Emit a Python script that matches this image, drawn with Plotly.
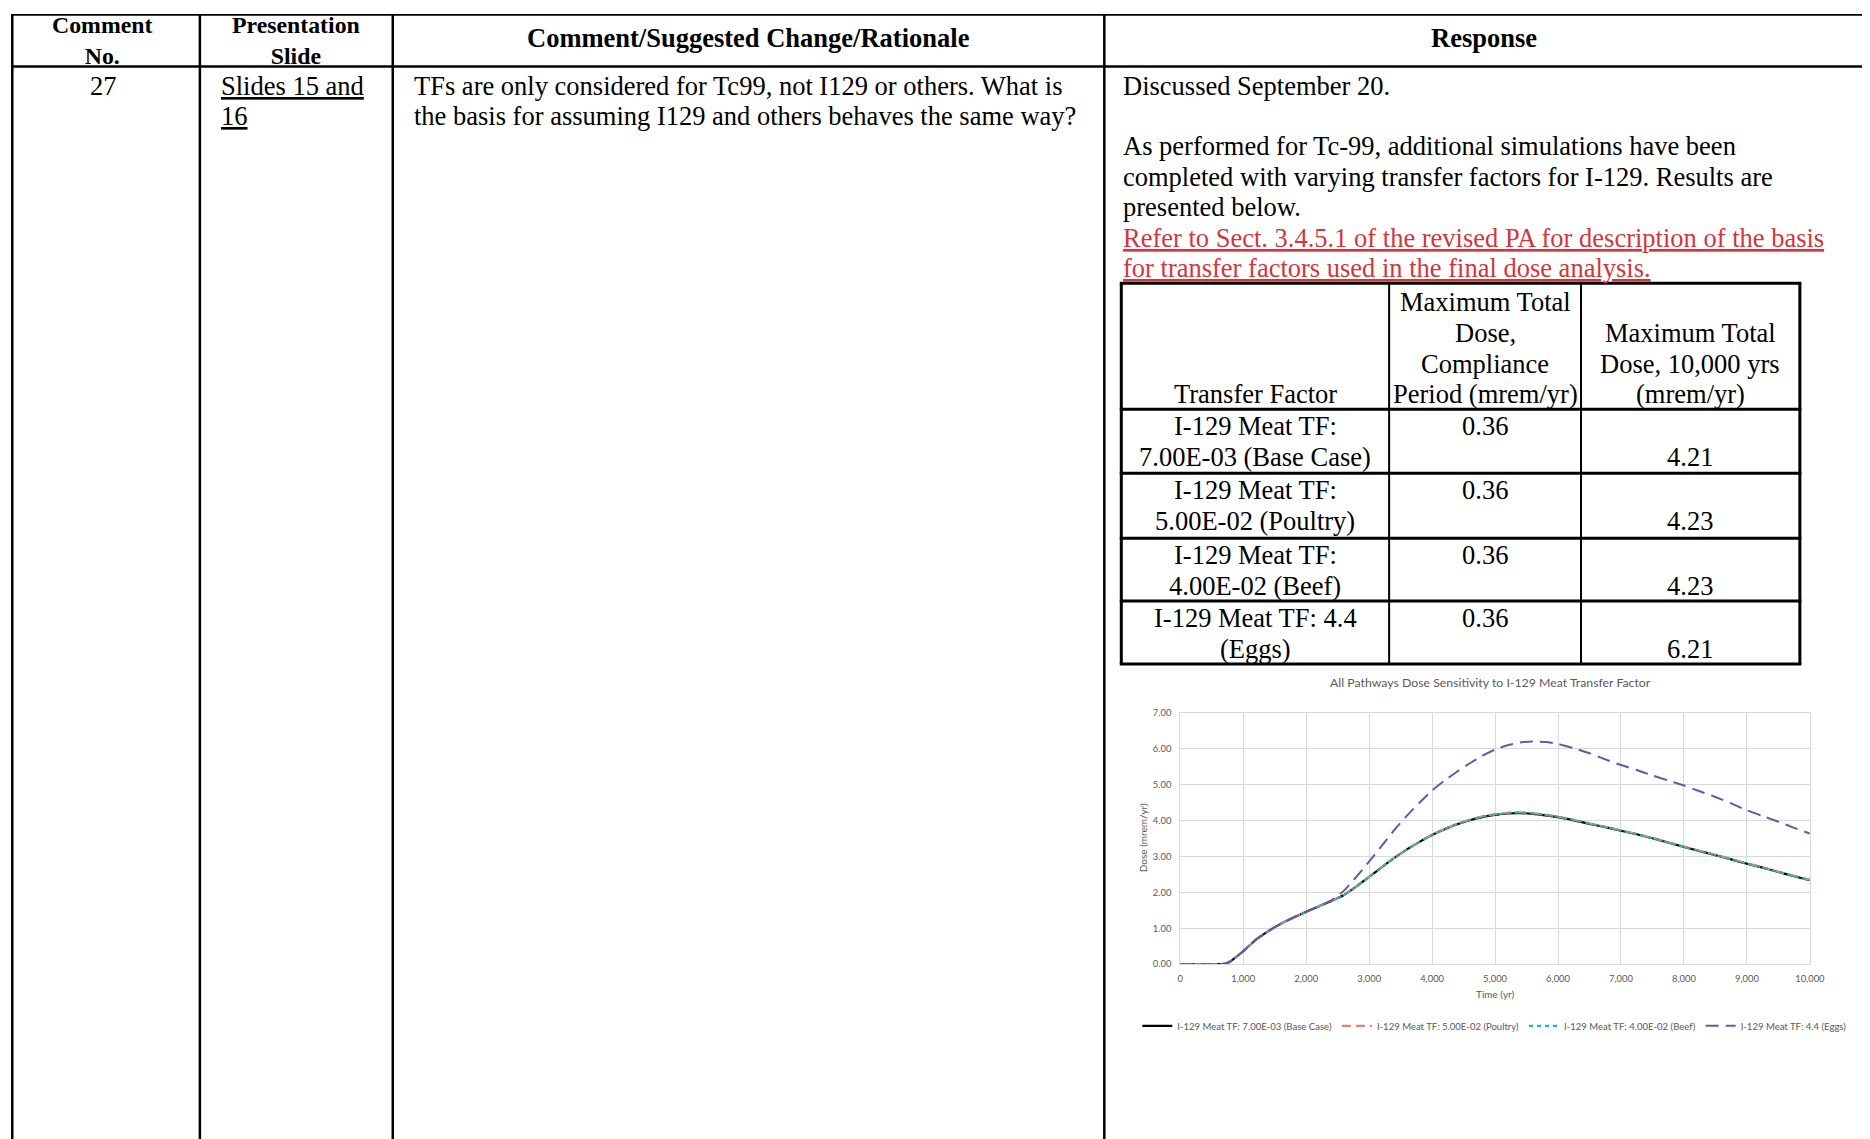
import plotly.graph_objects as go

W, H = 1870, 1139
# the captured page shows the figure slightly scaled and offset; positions below are
# given in target-picture pixels and converted through this mapping.
SC, OFX, OFY = 0.991, 10.0, 13.5

# ---------------- data ----------------
time_yr = [0, 250, 500, 700, 800, 900, 1000, 1200, 1400, 1600, 1800, 2000, 2200, 2400,
           2600, 2800, 3000, 3200, 3400, 3600, 3800, 4000, 4200, 4400, 4600, 4800, 5000,
           5200, 5400, 5600, 5800, 6000, 6250, 6500, 6750, 7000, 7250, 7500, 7750, 8000,
           8250, 8500, 8750, 9000, 9250, 9500, 9750, 10000]
dose_base = [0, 0, 0, 0.01, 0.08, 0.22, 0.36, 0.68, 0.92, 1.13, 1.30, 1.46, 1.61, 1.76,
             1.93, 2.17, 2.43, 2.70, 2.96, 3.20, 3.41, 3.60, 3.76, 3.90, 4.01, 4.10, 4.16,
             4.20, 4.21, 4.19, 4.15, 4.10, 4.01, 3.91, 3.82, 3.72, 3.62, 3.51, 3.39, 3.27,
             3.15, 3.04, 2.92, 2.80, 2.69, 2.57, 2.45, 2.34]
dose_poultry = [0, 0, 0, 0.01, 0.08, 0.22, 0.36, 0.68, 0.92, 1.13, 1.30, 1.46, 1.61, 1.76,
                1.93, 2.17, 2.43, 2.70, 2.96, 3.20, 3.41, 3.61, 3.77, 3.91, 4.03, 4.12, 4.18,
                4.22, 4.23, 4.21, 4.17, 4.11, 4.02, 3.92, 3.83, 3.73, 3.63, 3.52, 3.40, 3.28,
                3.16, 3.05, 2.93, 2.81, 2.70, 2.58, 2.46, 2.35]
dose_beef = [0, 0, 0, 0.01, 0.08, 0.22, 0.36, 0.68, 0.92, 1.13, 1.30, 1.46, 1.61, 1.76,
             1.93, 2.17, 2.43, 2.70, 2.96, 3.20, 3.41, 3.61, 3.77, 3.91, 4.02, 4.11, 4.17,
             4.21, 4.23, 4.20, 4.16, 4.11, 4.02, 3.92, 3.82, 3.72, 3.62, 3.51, 3.39, 3.27,
             3.15, 3.04, 2.92, 2.80, 2.69, 2.57, 2.45, 2.34]
dose_eggs = [0, 0, 0, 0.01, 0.08, 0.22, 0.36, 0.68, 0.92, 1.13, 1.30, 1.46, 1.61, 1.78,
             2.05, 2.44, 2.86, 3.30, 3.74, 4.14, 4.50, 4.84, 5.12, 5.37, 5.60, 5.81, 5.98,
             6.10, 6.18, 6.21, 6.19, 6.14, 6.02, 5.88, 5.71, 5.55, 5.41, 5.26, 5.12, 4.98,
             4.82, 4.66, 4.48, 4.29, 4.13, 3.97, 3.80, 3.64]
series_names = ["I-129 Meat TF: 7.00E-03 (Base Case)",
                "I-129 Meat TF: 5.00E-02 (Poultry)",
                "I-129 Meat TF: 4.00E-02 (Beef)",
                "I-129 Meat TF: 4.4 (Eggs)"]
x_tick_vals = [0, 1000, 2000, 3000, 4000, 5000, 6000, 7000, 8000, 9000, 10000]
y_tick_vals = [0, 1, 2, 3, 4, 5, 6, 7]

chart_title = "All Pathways Dose Sensitivity to I-129 Meat Transfer Factor"
x_title = "Time (yr)"
y_title = "Dose (mrem/yr)"

header_cells = [["Comment", "No."], ["Presentation", "Slide"],
                ["Comment/Suggested Change/Rationale"], ["Response"]]
comment_no = "27"
slide_lines = ["Slides 15 and", "16"]
comment_lines = ["TFs are only considered for Tc99, not I129 or others. What is",
                 "the basis for assuming I129 and others behaves the same way?"]
response_lines = ["Discussed September 20.", "",
                  "As performed for Tc-99, additional simulations have been",
                  "completed with varying transfer factors for I-129. Results are",
                  "presented below."]
revised_lines = ["Refer to Sect. 3.4.5.1 of the revised PA for description of the basis",
                 "for transfer factors used in the final dose analysis."]

tbl_head_tf = ["Transfer Factor"]
tbl_head_comp = ["Maximum Total", "Dose,", "Compliance", "Period (mrem/yr)"]
tbl_head_10k = ["Maximum Total", "Dose, 10,000 yrs", "(mrem/yr)"]
tbl_tf_line1 = ["I-129 Meat TF:", "I-129 Meat TF:", "I-129 Meat TF:", "I-129 Meat TF: 4.4"]
tbl_tf_line2 = ["7.00E-03 (Base Case)", "5.00E-02 (Poultry)", "4.00E-02 (Beef)", "(Eggs)"]
tbl_compliance = [0.36, 0.36, 0.36, 0.36]
tbl_10k = [4.21, 4.23, 4.23, 6.21]

# ---------------- helpers (picture pixel -> paper) ----------------
def FX(x, lo=1.3):
    return max(lo, (x - OFX) / SC)

def FY(y, lo=1.3):
    return max(lo, (y - OFY) / SC)

def PX(x, lo=1.3):
    return FX(x, lo) / W

def PY(y, lo=1.3):
    return 1 - FY(y, lo) / H

SERIF = "Liberation Serif"
FS = 26.5
SANS = "Lato"
GREY = "#595959"

fig = go.Figure()

styles = [
    dict(color="#000000", width=2.2, dash="solid"),
    dict(color="#E2856E", width=2.2, dash="9px,5px"),
    dict(color="#1FB2B8", width=2.2, dash="4px,4px"),
    dict(color="#6A55A8", width=2.0, dash="13px,7px"),
]
for name, ys, st in zip(series_names, [dose_base, dose_poultry, dose_beef, dose_eggs], styles):
    fig.add_trace(go.Scatter(x=time_yr, y=ys, mode="lines", name=name,
                             line=dict(shape="spline", smoothing=0.5, **st)))

annotations = []
shapes = []

def text(x, y, s, anchor="left", bold=False, color="black", size=FS, family=SERIF,
         under=False, angle=0):
    t = s
    if bold:
        t = "<b>" + t + "</b>"
    if under:
        t = "<u>" + t + "</u>"
    annotations.append(dict(x=PX(x), y=PY(y), xref="paper", yref="paper", text=t,
                            showarrow=False, xanchor=anchor, yanchor="middle",
                            textangle=angle,
                            font=dict(family=family, size=size, color=color)))

def hline(x0, x1, y, w=2, lo=1.3):
    shapes.append(dict(type="line", xref="paper", yref="paper", x0=PX(x0), x1=PX(x1),
                       y0=PY(y, lo), y1=PY(y, lo), line=dict(color="black", width=w)))

def vline(x, y0, y1, w=2):
    shapes.append(dict(type="line", xref="paper", yref="paper", x0=PX(x), x1=PX(x),
                       y0=PY(y0, 0), y1=PY(y1), line=dict(color="black", width=w)))

# ---------------- outer table ----------------
col_x = [5, 199, 392, 1104, 1864]
top_y = 4
hline(col_x[0], col_x[-1], top_y, 1.8, lo=0.9)
hline(col_x[0], col_x[-1], 66, 2.5)
for cx in col_x:
    vline(cx, top_y, 1200, 2.5)

for i, cell in enumerate(header_cells):
    cxm = (col_x[i] + col_x[i + 1]) / 2
    if len(cell) == 2:
        text(cxm, 40.5, "<br>".join(cell), anchor="center", bold=True, size=23.8)
    else:
        text(cxm, 38, cell[0], anchor="center", bold=True)

body_y = [86, 116]
text(103, body_y[0], comment_no, anchor="center")
for s, yy in zip(slide_lines, body_y):
    text(218, yy, s, under=True)
for s, yy in zip(comment_lines, body_y):
    text(411, yy, s)

resp_y = [86, 116, 146, 177, 207]
for s, yy in zip(response_lines, resp_y):
    if s:
        text(1121, yy, s)
for s, yy in zip(revised_lines, [238, 268]):
    text(1121, yy, s, color="#D5343C", under=True)

# ---------------- inner table ----------------
tx = [1121, 1389, 1581, 1800]
ty = [283, 409, 473, 538, 601, 664]
for yy in ty:
    hline(tx[0] - 1.5, tx[-1] + 1.5, yy, 3)
vline(tx[0], ty[0], ty[-1], 3)
vline(tx[-1], ty[0], ty[-1], 3)
vline(tx[1], ty[0], ty[-1], 2)
vline(tx[2], ty[0], ty[-1], 2)

c0 = (tx[0] + tx[1]) / 2
c1 = (tx[1] + tx[2]) / 2
c2 = (tx[2] + tx[3]) / 2
hdr_rows = [302, 333, 364, 394]
text(c0, hdr_rows[3], tbl_head_tf[0], anchor="center")
for s, yy in zip(tbl_head_comp, hdr_rows):
    text(c1, yy, s, anchor="center")
for s, yy in zip(tbl_head_10k, hdr_rows[1:]):
    text(c2, yy, s, anchor="center")
for i in range(4):
    top = ty[i + 1]
    y1, y2 = top + 17, top + 48
    text(c0, y1, tbl_tf_line1[i], anchor="center")
    text(c0, y2, tbl_tf_line2[i], anchor="center")
    text(c1, y1, f"{tbl_compliance[i]:.2f}", anchor="center")
    text(c2, y2, f"{tbl_10k[i]:.2f}", anchor="center")

# ---------------- chart texts ----------------
text(1490, 682, chart_title, anchor="center", family=SANS, size=12.3, color=GREY)
text(1495, 994, x_title, anchor="center", family=SANS, size=10, color=GREY)
text(1143, 838, y_title, anchor="center", family=SANS, size=10, color=GREY, angle=-90)

plot_l, plot_r, plot_t, plot_b = 1180, 1810, 713, 964.3

fig.update_layout(
    width=W, height=H, autosize=False,
    margin=dict(l=0, r=0, t=0, b=0),
    paper_bgcolor="white", plot_bgcolor="white",
    showlegend=True,
    legend=dict(orientation="h", x=PX(1137), y=PY(1026), xanchor="left", yanchor="middle",
                font=dict(family=SANS, size=9.55, color=GREY), bgcolor="rgba(0,0,0,0)",
                itemwidth=30, tracegroupgap=0),
    xaxis=dict(domain=[PX(plot_l), PX(plot_r)], range=[0, 10000], tickvals=x_tick_vals,
               tickformat=",d", showgrid=True, gridcolor="#D9D9D9", gridwidth=1,
               zeroline=False, showline=True, linecolor="#D9D9D9", mirror=True,
               ticks="", ticklabelstandoff=6,
               tickfont=dict(family=SANS, size=9.4, color=GREY), fixedrange=True),
    yaxis=dict(domain=[PY(plot_b), PY(plot_t)], range=[0, 7], tickvals=y_tick_vals,
               tickformat=".2f", showgrid=True, gridcolor="#D9D9D9", gridwidth=1,
               zeroline=False, showline=True, linecolor="#D9D9D9", mirror=True,
               ticks="", ticklabelstandoff=6,
               tickfont=dict(family=SANS, size=9.4, color=GREY), fixedrange=True),
    annotations=annotations,
    shapes=shapes,
)

fig.write_html("out.html")
